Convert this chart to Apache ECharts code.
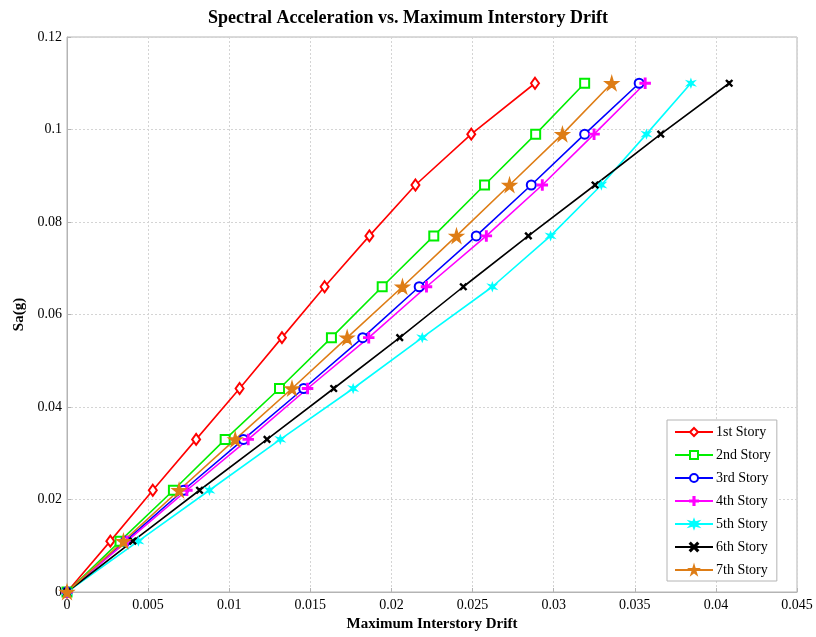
<!DOCTYPE html>
<html>
<head>
<meta charset="utf-8">
<script src="https://cdn.jsdelivr.net/npm/echarts@6/dist/echarts.min.js"></script>
<style>html,body{margin:0;padding:0;background:#fff;}#c{width:816px;height:637px;}</style>
</head>
<body>
<div id="c"></div>
<script>
const sa = [0, 0.011, 0.022, 0.033, 0.044, 0.055, 0.066, 0.077, 0.088, 0.099, 0.11];
const story1 = [0, 0.00267, 0.00529, 0.00796, 0.01064, 0.01325, 0.01588, 0.01864, 0.02148, 0.02492, 0.02885];
const story2 = [0, 0.00327, 0.00656, 0.00975, 0.01310, 0.01630, 0.01943, 0.02261, 0.02574, 0.02889, 0.03191];
const story3 = [0, 0.00360, 0.00718, 0.01088, 0.01459, 0.01823, 0.02171, 0.02523, 0.02862, 0.03191, 0.03527];
const story4 = [0, 0.00370, 0.00739, 0.01117, 0.01483, 0.01860, 0.02216, 0.02585, 0.02930, 0.03249, 0.03564];
const story5 = [0, 0.00440, 0.00878, 0.01315, 0.01764, 0.02190, 0.02622, 0.02981, 0.03294, 0.03572, 0.03846];
const story6 = [0, 0.00406, 0.00817, 0.01233, 0.01644, 0.02051, 0.02443, 0.02844, 0.03255, 0.03660, 0.04082];
const story7 = [0, 0.00348, 0.00691, 0.01037, 0.01387, 0.01727, 0.02068, 0.02401, 0.02728, 0.03054, 0.03358];
const storyNames = ['1st Story', '2nd Story', '3rd Story', '4th Story', '5th Story', '6th Story', '7th Story'];
const xTicks = [0, 0.005, 0.01, 0.015, 0.02, 0.025, 0.03, 0.035, 0.04, 0.045];
const yTicks = [0, 0.02, 0.04, 0.06, 0.08, 0.1, 0.12];

const drifts = [story1, story2, story3, story4, story5, story6, story7];
const colors = ['#ff0000', '#00ee00', '#0000ff', '#ff00ff', '#00ffff', '#000000', '#de7d16'];
const plusPath = 'path://M4.3,0H5.7V4.3H10V5.7H5.7V10H4.3V5.7H0V4.3H4.3Z';
const xPath = 'path://M1,0L5,4L9,0L10,1L6,5L10,9L9,10L5,6L1,10L0,9L4,5L0,1Z';
const starPath = 'path://M50,0L61,35L98,35L68,57L79,91L50,70L21,91L32,57L2,35L39,35Z';
const astPath = 'path://M50,0L60,32L92,22L68,50L92,78L60,68L50,100L40,68L8,78L32,50L8,22L40,32Z';
const symbols = ['emptyDiamond', 'emptyRect', 'emptyCircle', plusPath, astPath, xPath, starPath];
const sizes = [[8, 11], 9, 9, 10, 7, 6, 13];

const fmt = v => String(v);
const serif = 'Liberation Serif';

const series = drifts.map((d, i) => ({
  name: storyNames[i],
  type: 'line',
  data: d.map((x, j) => [x, sa[j]]),
  symbol: symbols[i],
  symbolSize: sizes[i],
  showAllSymbol: true,
  lineStyle: { color: colors[i], width: 1.6 },
  itemStyle: { color: colors[i], borderColor: colors[i], borderWidth: 1.5 },
  emphasis: { disabled: true },
  animation: false
}));

const chart = echarts.init(document.getElementById('c'), null, { renderer: 'canvas' });
chart.setOption({
  backgroundColor: '#ffffff',
  animation: false,
  title: {
    text: 'Spectral Acceleration vs. Maximum Interstory Drift',
    left: 'center', top: 4,
    textStyle: { fontFamily: serif, fontWeight: 'bold', fontSize: 18, color: '#000' }
  },
  grid: { left: 67, right: 19, top: 37, bottom: 45, show: true, borderColor: '#b4b4b4', borderWidth: 1, containLabel: false },
  legend: {
    orient: 'vertical', left: 667, top: 420,
    backgroundColor: '#ffffff', borderColor: '#b4b4b4', borderWidth: 1,
    padding: [5, 6, 4, 7], itemGap: 9, itemWidth: 38, itemHeight: 10,
    textStyle: { fontFamily: serif, fontSize: 14, color: '#000', padding: [0, 0, 0, -2] },
    data: storyNames
  },
  xAxis: {
    type: 'value', min: 0, max: 0.045, interval: 0.005,
    name: 'Maximum Interstory Drift', nameLocation: 'middle', nameGap: 22,
    nameTextStyle: { fontFamily: serif, fontWeight: 'bold', fontSize: 15, color: '#000' },
    axisLine: { show: true, lineStyle: { color: '#b4b4b4' } },
    axisTick: { show: true, inside: true, length: 4, lineStyle: { color: '#b4b4b4' } },
    axisLabel: { fontFamily: serif, fontSize: 14, color: '#000', margin: 6, formatter: v => xTicks.includes(+v.toFixed(3)) ? fmt(+v.toFixed(3)) : '' },
    splitLine: { show: true, lineStyle: { color: '#d4d4d4', type: [2, 2], width: 1 } }
  },
  yAxis: {
    type: 'value', min: 0, max: 0.12, interval: 0.02,
    name: 'Sa(g)', nameLocation: 'middle', nameGap: 37,
    nameTextStyle: { fontFamily: serif, fontWeight: 'bold', fontSize: 15, color: '#000' },
    axisLine: { show: true, lineStyle: { color: '#b4b4b4' } },
    axisTick: { show: true, inside: true, length: 4, lineStyle: { color: '#b4b4b4' } },
    axisLabel: { fontFamily: serif, fontSize: 14, color: '#000', margin: 5, formatter: v => yTicks.includes(+v.toFixed(2)) ? fmt(+v.toFixed(2)) : '' },
    splitLine: { show: true, lineStyle: { color: '#d4d4d4', type: [2, 2], width: 1 } }
  },
  series: series
});
</script>
</body>
</html>
